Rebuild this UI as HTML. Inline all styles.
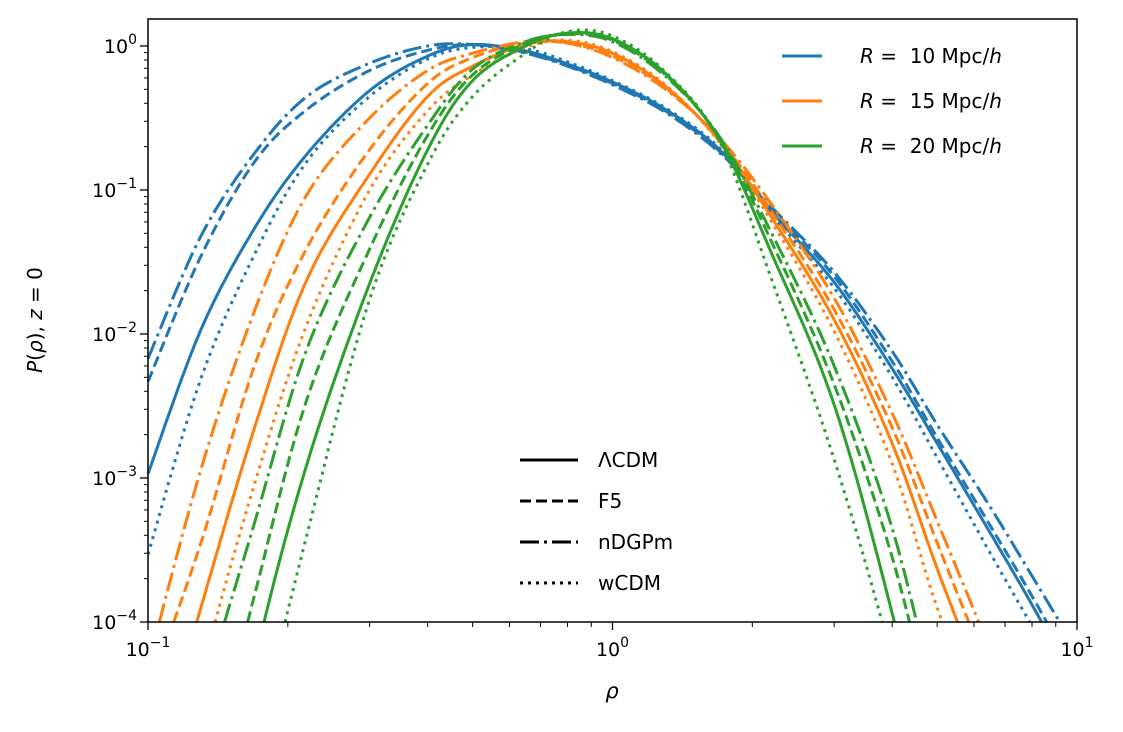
<!DOCTYPE html>
<html><head><meta charset="utf-8"><style>
html,body{margin:0;padding:0;background:#fff;overflow:hidden;width:1123px;height:732px;}
svg{display:block;overflow:hidden;font-family:"DejaVu Sans","Liberation Sans",sans-serif;}
</style></head><body>
<svg id="chart" width="1123" height="732">
<rect x="0" y="0" width="1123" height="732" fill="#fff"/>
<g id="curves"></g>
<g id="axes"></g>
<rect x="148" y="19" width="929" height="603" fill="none" stroke="#000" stroke-width="1.5"/>
<text x="612" y="698" font-size="21" font-style="italic" text-anchor="middle">ρ</text>
<text transform="translate(42,320) rotate(-90)" font-size="20" text-anchor="middle"><tspan font-style="italic">P</tspan>(<tspan font-style="italic">ρ</tspan>), <tspan font-style="italic">z</tspan> = 0</text>
<g id="legend1"></g>
<g id="legend2"></g>
</svg>
<script>
// density grid (rho)
const rhoGrid = [0.1,0.13,0.17,0.22,0.3,0.4,0.5,0.65,0.8,1.0,1.3,1.7,2.2,3,4,5,6.5,8,10];
// log10 P(rho) per curve
const b_lcdm = [-2.97,-1.97,-1.26,-0.75,-0.31,-0.07,0.01,-0.035,-0.125,-0.25,-0.44,-0.72,-1.15,-1.64,-2.24,-2.76,-3.38,-3.88,-4.45];
const b_f5   = [-2.33,-1.46,-0.8,-0.44,-0.17,-0.03,0.01,-0.045,-0.135,-0.26,-0.45,-0.73,-1.13,-1.6,-2.19,-2.72,-3.33,-3.82,-4.38];
const b_ndgp = [-2.17,-1.32,-0.74,-0.35,-0.12,0.0,0.01,-0.05,-0.14,-0.27,-0.46,-0.74,-1.12,-1.57,-2.12,-2.63,-3.2,-3.68,-4.2];
const b_wcdm = [-3.53,-2.31,-1.44,-0.8,-0.35,-0.09,-0.01,-0.02,-0.11,-0.24,-0.43,-0.71,-1.17,-1.68,-2.3,-2.86,-3.52,-4.03,-4.6];
const o_lcdm = [-5.2,-3.9,-2.64,-1.62,-0.89,-0.35,-0.14,0.01,0.03,-0.05,-0.28,-0.66,-1.19,-1.9,-2.76,-3.63,-4.6,-5.5,-6.5];
const o_f5   = [-4.5,-3.45,-2.21,-1.4,-0.72,-0.26,-0.08,0.02,0.02,-0.07,-0.29,-0.65,-1.15,-1.83,-2.65,-3.45,-4.38,-5.2,-6.1];
const o_ndgp = [-4.3,-2.94,-1.83,-1.03,-0.5,-0.17,-0.05,0.03,0.02,-0.08,-0.3,-0.64,-1.1,-1.75,-2.55,-3.3,-4.2,-5.0,-5.9];
const o_wcdm = [-5.9,-4.37,-3.03,-1.93,-1.0,-0.45,-0.2,-0.01,0.04,-0.04,-0.27,-0.67,-1.22,-1.98,-2.9,-3.9,-4.8,-5.7,-6.7];
const g_lcdm = [-7.5,-6.0,-4.26,-2.9,-1.65,-0.72,-0.24,0.0,0.09,0.05,-0.19,-0.65,-1.44,-2.49,-3.94,-5.3,-7,-8.5,-10];
const g_f5   = [-6.8,-5.3,-3.8,-2.45,-1.41,-0.62,-0.2,0.02,0.085,0.04,-0.2,-0.64,-1.36,-2.35,-3.55,-4.8,-6.3,-7.8,-9.3];
const g_ndgp = [-6.3,-4.6,-3.3,-2.1,-1.19,-0.55,-0.16,0.03,0.08,0.03,-0.21,-0.63,-1.3,-2.22,-3.35,-4.6,-6.1,-7.6,-9.1];
const g_wcdm = [-8.2,-6.8,-4.9,-3.39,-1.76,-0.82,-0.35,-0.05,0.1,0.07,-0.18,-0.66,-1.62,-2.87,-4.26,-5.6,-7.2,-8.7,-10.2];
const xTicks = [-1,0,1];
const yTicks = [0,-1,-2,-3,-4];

const NS='http://www.w3.org/2000/svg';
const X0=148,X1=1077,Y0=19,Y1=622;
const xs = r => X0 + (Math.log10(r)+1)/2*(X1-X0);
const ys = lp => 622 - (lp+4)*144;
const C={b:'#1f77b4',o:'#ff7f0e',g:'#2ca02c'};
const D={lcdm:'',f5:'11,5',ndgp:'19,5,3,5',wcdm:'3,5'};
function el(t,a,p){const e=document.createElementNS(NS,t);for(const k in a)e.setAttribute(k,a[k]);p.appendChild(e);return e;}
function sample(pts){const out=[];
 for(let i=0;i<pts.length-1;i++){const p0=pts[Math.max(0,i-1)],p1=pts[i],p2=pts[i+1],p3=pts[Math.min(pts.length-1,i+2)];
  const c1=[p1[0]+(p2[0]-p0[0])/6,p1[1]+(p2[1]-p0[1])/6],c2=[p2[0]-(p3[0]-p1[0])/6,p2[1]-(p3[1]-p1[1])/6];
  for(let k=0;k<24;k++){const t=k/24,u=1-t;
   out.push([u*u*u*p1[0]+3*u*u*t*c1[0]+3*u*t*t*c2[0]+t*t*t*p2[0],u*u*u*p1[1]+3*u*u*t*c1[1]+3*u*t*t*c2[1]+t*t*t*p2[1]]);}}
 out.push(pts[pts.length-1]);return out;}
function clipPath(s){const segs=[];let cur=null;
 for(let i=0;i<s.length;i++){const p=s[i],inside=p[1]<=Y1;
  if(inside){if(!cur){cur=[];if(i>0){const q=s[i-1],t=(Y1-q[1])/(p[1]-q[1]);cur.push([q[0]+t*(p[0]-q[0]),Y1]);}}cur.push(p);}
  else if(cur){const q=s[i-1],t=(Y1-q[1])/(p[1]-q[1]);cur.push([q[0]+t*(p[0]-q[0]),Y1]);segs.push(cur);cur=null;}}
 if(cur)segs.push(cur);
 return segs.map(g=>'M'+g.map(p=>p[0].toFixed(1)+','+p[1].toFixed(1)).join(' L')).join(' ');}
const series=[['b','ndgp',b_ndgp],['b','f5',b_f5],['b','lcdm',b_lcdm],['b','wcdm',b_wcdm],
['o','ndgp',o_ndgp],['o','f5',o_f5],['o','lcdm',o_lcdm],['o','wcdm',o_wcdm],
['g','ndgp',g_ndgp],['g','f5',g_f5],['g','lcdm',g_lcdm],['g','wcdm',g_wcdm]];
const cg=document.getElementById('curves');
series.forEach(s=>{
 const pts=rhoGrid.map((r,i)=>[xs(r),ys(s[2][i])]);
 const p=el('path',{d:clipPath(sample(pts)),fill:'none',stroke:C[s[0]],'stroke-width':3,'stroke-dasharray':D[s[1]]},cg);
 
 
});
const ax=document.getElementById('axes');
xTicks.forEach(e=>{
 const x=xs(Math.pow(10,e));
 el('line',{x1:x,x2:x,y1:622,y2:630,stroke:'#000','stroke-width':1.3},ax);
 const t=el('text',{x:x,y:656,'font-size':19,'text-anchor':'middle'},ax);
 
 
 t.innerHTML='10<tspan dy="-9" font-size="14">'+(e<0?'−'+(-e):e)+'</tspan>';
 if(e<1)for(let m=2;m<10;m++){const xm=xs(m*Math.pow(10,e));el('line',{x1:xm,x2:xm,y1:622,y2:627,stroke:'#000','stroke-width':1},ax);}
});
yTicks.forEach(e=>{
 const y=ys(e);
 el('line',{x1:140,x2:148,y1:y,y2:y,stroke:'#000','stroke-width':1.3},ax);
 const t=el('text',{x:137,y:y+7,'font-size':19,'text-anchor':'end'},ax);
 
 
 t.innerHTML='10<tspan dy="-9" font-size="14">'+(e<0?'−'+(-e):e)+'</tspan>';
 for(let m=2;m<10;m++){const ym=ys(e+Math.log10(m));if(ym>=Y0)el('line',{x1:144,x2:148,y1:ym,y2:ym,stroke:'#000','stroke-width':1},ax);}
});
const l1=document.getElementById('legend1');
[['b','10',56],['o','15',101],['g','20',146]].forEach(r=>{
 const ln=el('line',{x1:782,x2:822,y1:r[2],y2:r[2],stroke:C[r[0]],'stroke-width':3},l1);
 
 
 const t=el('text',{x:860,y:r[2]+7,'font-size':20},l1);
 
 
 t.innerHTML='<tspan font-style="italic">R</tspan> = \u00a0'+r[1]+' Mpc/<tspan font-style="italic">h</tspan>';
});
const l2=document.getElementById('legend2');
[['lcdm','ΛCDM',460],['f5','F5',501],['ndgp','nDGPm',542],['wcdm','wCDM',583]].forEach(r=>{
 const ln=el('line',{x1:520,x2:578,y1:r[2],y2:r[2],stroke:'#000','stroke-width':3,'stroke-dasharray':D[r[0]]},l2);
 
 
 const t=el('text',{x:598,y:r[2]+7,'font-size':20},l2);
 
 
 t.textContent=r[1];
});
</script>
</body></html>
